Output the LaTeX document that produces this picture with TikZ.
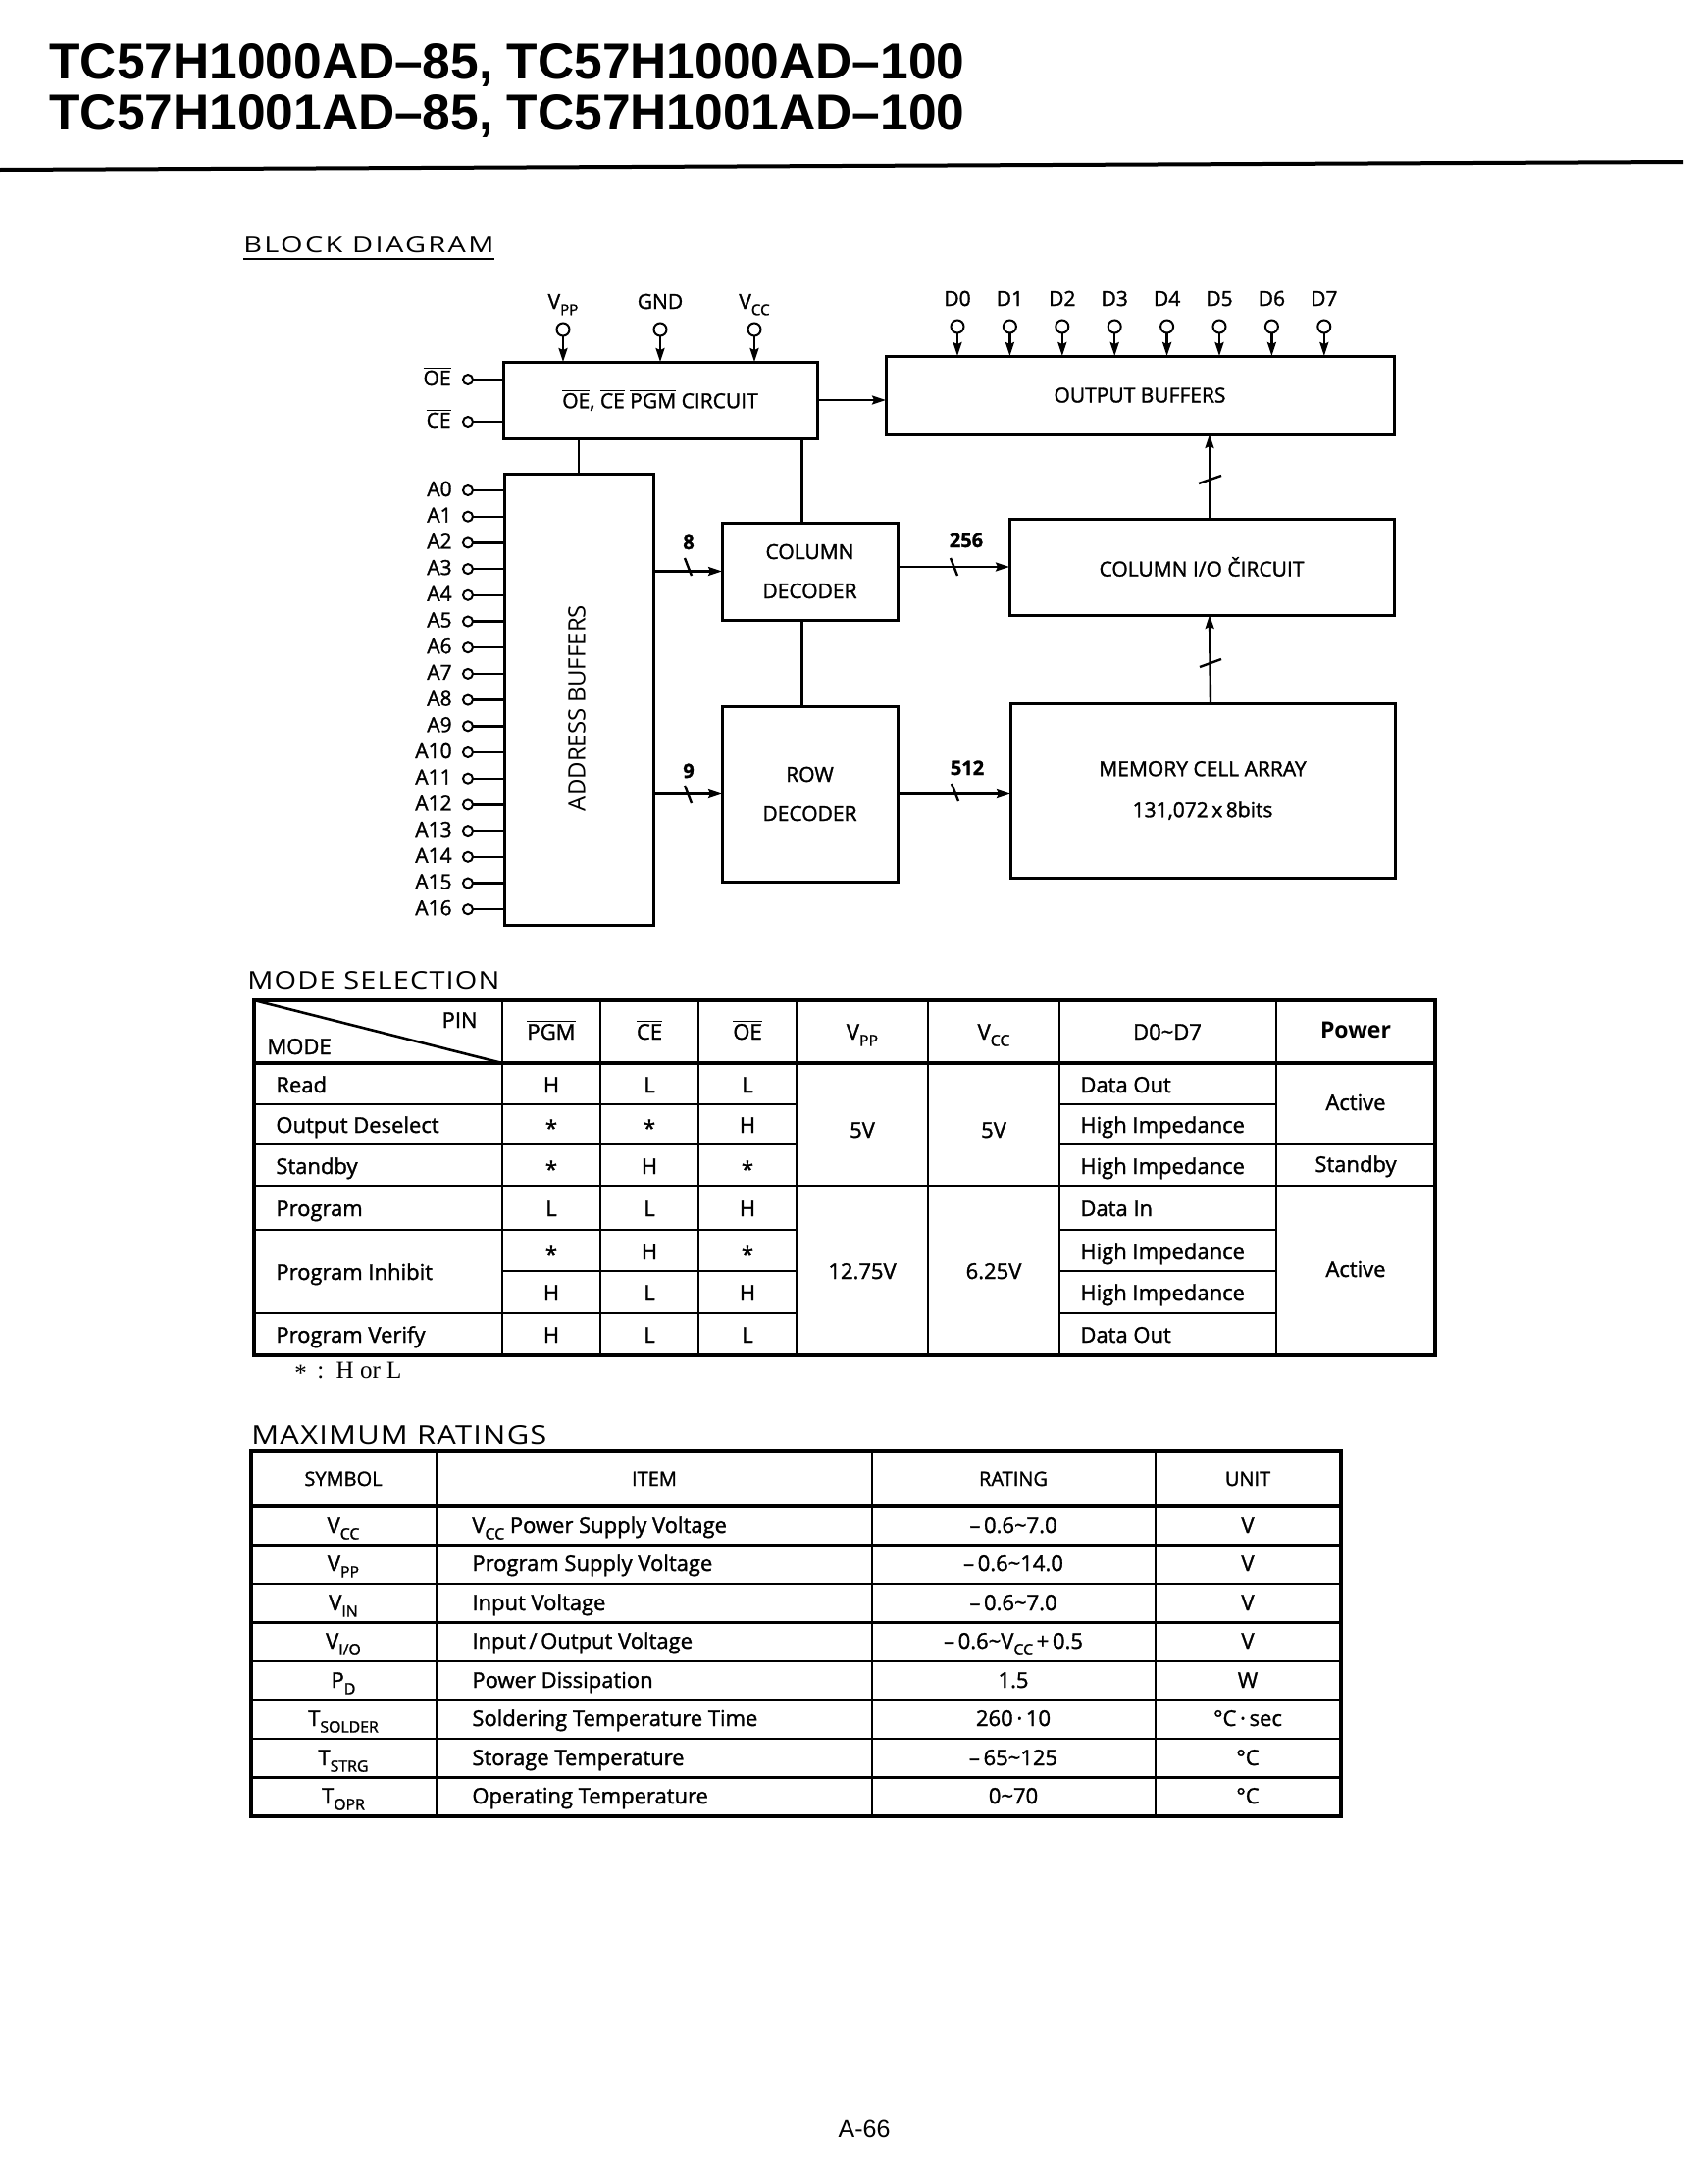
\documentclass[tikz,border=0pt]{standalone}
\usepackage{fontspec}
\usepackage{graphicx}
\setmainfont{Open Sans}
\newfontfamily\medf[FakeBold=1.4]{Open Sans}
\newfontfamily\helv{Liberation Sans}
\newfontfamily\tms{Liberation Serif}
\usetikzlibrary{arrows.meta}
\newcommand\myol[1]{$\overline{\mbox{#1}}$}
\newcommand\subs[1]{\raisebox{-0.3em}{\scalebox{0.72}{#1}}}
\newcommand\astk{\raisebox{-0.15em}{*}}
\newcommand\mrrow[6]{%
 \node[cell, anchor=base] (ms#1) at (350,#2) {#3};
 \node[cell, anchor=base west] (mi#1) at (481,#2) {#4};
 \node[cell, anchor=base] (mr#1) at (1033,#2) {#5};
 \node[cell, anchor=base] (mu#1) at (1272,#2) {#6};}
\begin{document}
\begin{tikzpicture}[x=0.5pt,y=-0.5pt,
 blk/.style={draw, line width=1.5pt, inner sep=0pt, outer sep=0pt, align=center,
   font=\medf\fontsize{10.5}{20}\selectfont},
 pinc/.style={circle, draw, line width=1pt, fill=white, inner sep=0pt, outer sep=0pt, minimum size=#1},
 pinc/.default=6.5pt,
 lbl/.style={inner sep=0pt, font=\medf\fontsize{10.5}{12}\selectfont},
 num/.style={inner sep=0pt, font=\medf\bfseries\fontsize{10}{12}\selectfont},
 wire/.style={line width=1.2pt},
 arr/.style={line width=1.2pt, -{Stealth[length=7pt,width=4.5pt,inset=1pt]}},
 cell/.style={inner sep=0pt, font=\medf\fontsize{11}{13}\selectfont},
 touter/.style={line width=2.2pt},
 tline/.style={line width=1.3pt}]
\fill[white] (0,0) rectangle (1733,2227);
\useasboundingbox (0,0) rectangle (1733,2227);

% ---------- title ----------
\node[anchor=base west, inner sep=0pt] (t1) at (50,80)
  {\resizebox{466.5pt}{18pt}{\helv\bfseries TC57H1000AD–85, TC57H1000AD–100}};
\node[anchor=base west, inner sep=0pt] (t2) at (50,132)
  {\resizebox{466.5pt}{18pt}{\helv\bfseries TC57H1001AD–85, TC57H1001AD–100}};
\draw[line width=2pt] (0,173) -- (1716,165);

% ---------- block diagram ----------
\node[anchor=base west, inner sep=0pt] (hbd) at (248,257)
  {\resizebox{127.5pt}{8pt}{\addfontfeatures{LetterSpace=8}BLOCK DIAGRAM}};
\draw[line width=1.3pt] ([yshift=-3.5pt]hbd.base west) -- ([yshift=-3.5pt]hbd.base east);

\node[blk, minimum width=160pt, minimum height=39pt] (ctl) at (673,408)
  {\myol{OE}, \myol{CE} \myol{PGM} CIRCUIT};
\node[blk, minimum width=259pt, minimum height=40pt] (obuf) at (1162,403) {OUTPUT BUFFERS};
\node[blk, minimum width=76pt, minimum height=230pt] (abuf) at (590,713) {};
\node[rotate=90, inner sep=0pt, font=\fontsize{12}{14}\selectfont] (abtxt) at (588,722) {ADDRESS BUFFERS};
\node[blk, minimum width=89.5pt, minimum height=49.5pt] (cdec) at (825.5,582.5) {COLUMN\\DECODER};
\node[blk, minimum width=89.5pt, minimum height=89.5pt] (rdec) at (825.5,809.5) {ROW\\DECODER};
\node[blk, minimum width=196pt, minimum height=49pt] (cio) at (1225,578) {COLUMN I/O ČIRCUIT};
\node[blk, minimum width=196pt, minimum height=89pt, font=\medf\fontsize{10.5}{21}\selectfont] (mem) at (1226,806)
  {MEMORY CELL ARRAY\\131,072\,x\,8bits};

% top pins
\foreach \x/\n/\lab in {574/vpp/{V\subs{PP}}, 673/gnd/{GND}, 769/vcc/{V\subs{CC}}} {
  \node[pinc] (p\n) at (\x,336) {};
  \node[lbl, anchor=base] (l\n) at (\x,315) {\lab};
  \draw[arr] (p\n.south) -- (p\n.south |- ctl.north);
}
\foreach \i in {0,...,7} {
  \node[pinc] (pd\i) at ({976+53.4*\i},333) {};
  \node[lbl, anchor=base] (ld\i) at ({976+53.4*\i},312) {D\i};
  \draw[arr] (pd\i.south) -- (pd\i.south |- obuf.north);
}
% OE / CE
\node[pinc=5pt] (poe) at (477,387) {};
\node[lbl, anchor=base east] (loe) at (460,393) {\myol{OE}};
\draw[wire] (poe.east) -- (poe.east -| ctl.west);
\node[pinc=5pt] (pce) at (477,430) {};
\node[lbl, anchor=base east] (lce) at (460,436) {\myol{CE}};
\draw[wire] (pce.east) -- (pce.east -| ctl.west);
% address pins
\foreach \i in {0,...,16} {
  \node[pinc=5pt] (pa\i) at (477,{500+26.7*\i}) {};
  \node[lbl, anchor=base east] (la\i) at (461,{506+26.7*\i}) {A\i};
  \draw[wire] (pa\i.east) -- (pa\i.east -| abuf.west);
}
% connections
\draw[wire] (abuf.north) -- (abuf.north |- ctl.south);
\draw[wire] ([xshift=-4pt]cdec.north) -- ([xshift=-4pt]cdec.north |- ctl.south);
\draw[wire] ([xshift=-4pt]cdec.south) -- ([xshift=-4pt]cdec.south |- rdec.north);
\draw[arr] (ctl.east) -- (ctl.east -| obuf.west);
\draw[arr] (abuf.east |- cdec.west) -- (cdec.west);
\draw[arr] (abuf.east |- rdec.west) -- (rdec.west);
\draw[arr] (cio.west -| cdec.east) -- (cio.west);
\draw[arr] (rdec.east) -- (rdec.east -| mem.west);
\draw[arr] ([xshift=4pt]mem.north) -- ([xshift=4pt]cio.south);
\draw[arr] ([xshift=4pt]cio.north) -- ([xshift=4pt]cio.north |- obuf.south);
% bus marks
\draw[wire] (698,569) -- (705,587);
\draw[wire] (698,801) -- (705,819);
\draw[wire] (969,569) -- (976,587);
\draw[wire] (970,799) -- (977,817);
\draw[wire] (1222,493) -- (1245,485);
\draw[wire] (1223,680) -- (1245,672);
\node[num, anchor=base] (n8) at (702,560) {8};
\node[num, anchor=base] (n9) at (702,793) {9};
\node[num, anchor=base] (n256) at (985,558) {256};
\node[num, anchor=base] (n512) at (986,790) {512};

% ---------- mode selection ----------
\node[anchor=base west, inner sep=0pt] (hms) at (252,1008)
  {\resizebox{128.5pt}{9pt}{\addfontfeatures{LetterSpace=4}MODE SELECTION}};
\draw[touter] (259,1020) rectangle (1463,1382);
\draw[touter] (259,1084) -- (1463,1084);
\foreach \x in {512,612,712,812,946,1080,1301} \draw[tline] (\x,1020) -- (\x,1382);
\draw[tline] (259,1126) -- (812,1126) (1080,1126) -- (1301,1126);
\draw[tline] (259,1167) -- (812,1167) (1080,1167) -- (1463,1167);
\draw[tline] (259,1209) -- (1463,1209);
\draw[tline] (259,1254) -- (812,1254) (1080,1254) -- (1301,1254);
\draw[tline] (512,1296) -- (812,1296) (1080,1296) -- (1301,1296);
\draw[tline] (259,1339) -- (812,1339) (1080,1339) -- (1301,1339);
\draw[tline] (259,1020) -- (512,1084);

\node[cell, anchor=base east] (hpin) at (487,1048) {PIN};
\node[cell, anchor=base west] (hmode) at (272,1075) {MODE};
\node[cell, anchor=base] (hpgm) at (562,1060) {\myol{PGM}};
\node[cell, anchor=base] (hce) at (662,1060) {\myol{CE}};
\node[cell, anchor=base] (hoe) at (762,1060) {\myol{OE}};
\node[cell, anchor=base] (hvpp) at (879,1060) {V\subs{PP}};
\node[cell, anchor=base] (hvcc) at (1013,1060) {V\subs{CC}};
\node[cell, anchor=base] (hd) at (1190,1060) {D0\textasciitilde D7};
\node[cell, anchor=base, font=\bfseries\fontsize{11.5}{13}\selectfont] (hpow) at (1382,1058) {Power};

\foreach \n/\y/\t in {m1/1114/Read, m2/1155/Output Deselect, m3/1197/Standby, m4/1240/Program,
   m5/1305/Program Inhibit, m6/1369/Program Verify}
  \node[cell, anchor=base west] (\n) at (281,\y) {\t};
\foreach \r/\y/\a/\b/\c in {1/1114/H/L/L, 2/1155/\astk/\astk/H, 3/1197/\astk/H/\astk, 4/1240/L/L/H,
   5/1284/\astk/H/\astk, 6/1326/H/L/H, 7/1369/H/L/L} {
  \node[cell, anchor=base] (pg\r) at (562,\y) {\a};
  \node[cell, anchor=base] (ce\r) at (662,\y) {\b};
  \node[cell, anchor=base] (oe\r) at (762,\y) {\c};
}
\foreach \r/\y/\t in {1/1114/Data Out, 2/1155/High Impedance, 3/1197/High Impedance, 4/1240/Data In,
   5/1284/High Impedance, 6/1326/High Impedance, 7/1369/Data Out}
  \node[cell, anchor=base west] (dd\r) at (1101,\y) {\t};
\node[cell, anchor=base] (vpp1) at (879,1160) {5V};
\node[cell, anchor=base] (vpp2) at (879,1304) {12.75V};
\node[cell, anchor=base] (vcc1) at (1013,1160) {5V};
\node[cell, anchor=base] (vcc2) at (1013,1304) {6.25V};
\node[cell, anchor=base] (pw1) at (1382,1132) {Active};
\node[cell, anchor=base] (pw2) at (1382,1195) {Standby};
\node[cell, anchor=base] (pw3) at (1382,1302) {Active};

\node[anchor=base west, inner sep=0pt] (fn) at (300,1405)
  {\tms\fontsize{12.5}{14}\selectfont \raisebox{-0.15em}{*}\ \,:\ \ H or L};

% ---------- maximum ratings ----------
\node[anchor=base west, inner sep=0pt] (hmr) at (256,1472)
  {\resizebox{150.5pt}{9.5pt}{\addfontfeatures{LetterSpace=4}MAXIMUM RATINGS}};
\draw[touter] (256,1480) rectangle (1367,1852);
\draw[touter] (256,1536) -- (1367,1536);
\foreach \x in {445,889,1178} \draw[tline] (\x,1480) -- (\x,1852);
\foreach \y in {1575.5,1615,1654.5,1694,1733.5,1773,1812.5} \draw[tline] (256,\y) -- (1367,\y);
\node[cell, anchor=base, font=\medf\fontsize{10}{12}\selectfont] (hsym) at (350,1515) {SYMBOL};
\node[cell, anchor=base, font=\medf\fontsize{10}{12}\selectfont] (hitem) at (667,1515) {ITEM};
\node[cell, anchor=base, font=\medf\fontsize{10}{12}\selectfont] (hrat) at (1033,1515) {RATING};
\node[cell, anchor=base, font=\medf\fontsize{10}{12}\selectfont] (hunit) at (1272,1515) {UNIT};
\mrrow{1}{1563}{V\subs{CC}}{V\subs{CC} Power Supply Voltage}{–\,0.6\textasciitilde 7.0}{V}
\mrrow{2}{1602}{V\subs{PP}}{Program Supply Voltage}{–\,0.6\textasciitilde 14.0}{V}
\mrrow{3}{1642}{V\subs{IN}}{Input Voltage}{–\,0.6\textasciitilde 7.0}{V}
\mrrow{4}{1681}{V\subs{I/O}}{Input\,/\,Output Voltage}{–\,0.6\textasciitilde V\subs{CC}\,+\,0.5}{V}
\mrrow{5}{1721}{P\subs{D}}{Power Dissipation}{1.5}{W}
\mrrow{6}{1760}{T\subs{SOLDER}}{Soldering Temperature Time}{260\,·\,10}{°C\,·\,sec}
\mrrow{7}{1800}{T\subs{STRG}}{Storage Temperature}{–\,65\textasciitilde 125}{°C}
\mrrow{8}{1839}{T\subs{OPR}}{Operating Temperature}{0\textasciitilde 70}{°C}

% ---------- page number ----------
\node[anchor=base, inner sep=0pt] (pgno) at (881,2179) {\helv\fontsize{12.5}{14}\selectfont A-66};
\end{tikzpicture}
\end{document}
